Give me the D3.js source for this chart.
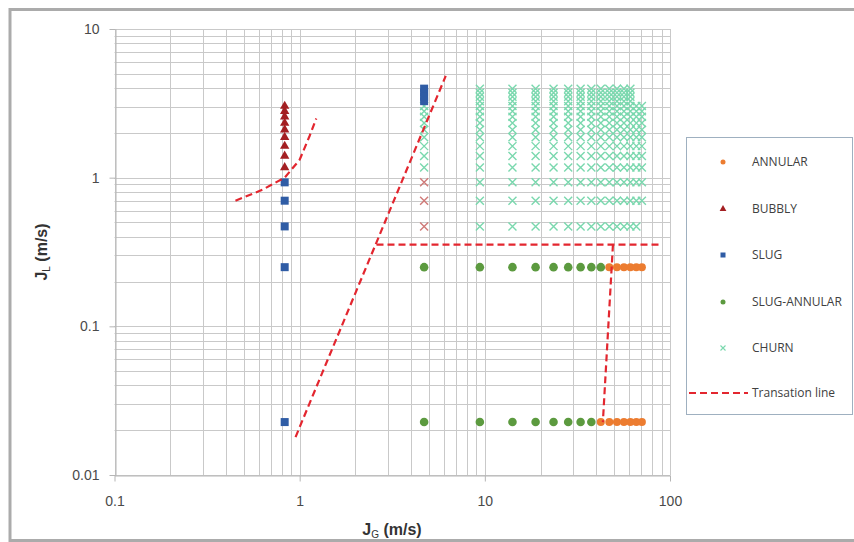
<!DOCTYPE html>
<html>
<head>
<meta charset="utf-8">
<script src="https://cdnjs.cloudflare.com/ajax/libs/d3/7.8.5/d3.min.js"></script>
<style>
  html, body { margin: 0; padding: 0; background: #fff; }
  svg { display: block; }
</style>
</head>
<body>
<svg id="chart" width="854" height="542"></svg>
<script>
// ---------- DATA ----------
const xTicks = [0.1, 1, 10, 100];
const yTicks = [0.01, 0.1, 1, 10];

// gas superficial velocities used in the experiments (m/s)
const jgCols = [4.7, 9.4, 14.1, 18.8, 23.5, 28.2, 32.9, 37.6, 42.3, 47.0, 51.7, 56.4, 61.1, 65.8, 70.5];
// liquid superficial velocity levels of churn points (m/s)
const churnLevels = [0.47, 0.70, 0.93, 1.17, 1.40, 1.63, 1.87, 2.10, 2.33, 2.57, 2.80, 3.03, 3.27, 3.50, 3.73, 3.97];
// per-column first/last level index observed as CHURN
const churnRange = [[3, 11], [0, 15], [0, 15], [0, 15], [0, 15], [0, 15], [0, 15], [0, 15], [0, 15], [0, 15], [0, 15], [0, 15], [0, 15], [0, 11], [1, 11]];

const slugJG = [0.83, 0.83, 0.83, 0.83, 0.83, 4.7, 4.7, 4.7, 4.7];
const slugJL = [0.93, 0.70, 0.47, 0.25, 0.0227, 3.27, 3.50, 3.73, 3.97];

const bubblyJG = [0.83, 0.83, 0.83, 0.83, 0.83, 0.83, 0.83, 0.83, 0.83];
const bubblyJL = [1.17, 1.40, 1.63, 1.87, 2.10, 2.33, 2.57, 2.80, 3.03];

const slugAnnJG = [4.7, 9.4, 14.1, 18.8, 23.5, 28.2, 32.9, 37.6, 42.3, 4.7, 9.4, 14.1, 18.8, 23.5, 28.2, 32.9, 37.6];
const slugAnnJL = [0.25, 0.25, 0.25, 0.25, 0.25, 0.25, 0.25, 0.25, 0.25, 0.0227, 0.0227, 0.0227, 0.0227, 0.0227, 0.0227, 0.0227, 0.0227];

const annularJG = [47.0, 51.7, 56.4, 61.1, 65.8, 70.5, 42.3, 47.0, 51.7, 56.4, 61.1, 65.8, 70.5];
const annularJL = [0.25, 0.25, 0.25, 0.25, 0.25, 0.25, 0.0227, 0.0227, 0.0227, 0.0227, 0.0227, 0.0227, 0.0227];

// churn-like points drawn in a reddish tone at J_G = 4.7
const churn2JG = [4.7, 4.7, 4.7];
const churn2JL = [0.47, 0.70, 0.93];

// transition lines
const trans1 = [[0.45, 0.70], [0.63, 0.83], [0.83, 1.0], [1.0, 1.32], [1.13, 1.9], [1.23, 2.5]];
const trans2 = [[0.95, 0.018], [6.15, 4.84]];
const trans3 = [[2.6, 0.355], [88, 0.355]];
const trans4 = [[49.2, 0.355], [43.4, 0.0227]];

const legendItems = ["ANNULAR", "BUBBLY", "SLUG", "SLUG-ANNULAR", "CHURN", "Transation line"];

// ---------- STYLE ----------
const C = {
  annular: "#ec7c30",
  bubbly: "#a31f22",
  slug: "#2f5ca5",
  slugAnn: "#5c9a3f",
  churn: "#7ad8ae",
  churn2: "#cf7a78",
  line: "#e3262f",
  grid: "#c9c9c9",
  text: "#404040"
};

const svg = d3.select("#chart");
// outer frame
svg.append("rect").attr("x", 10).attr("y", 9.5).attr("width", 880).attr("height", 531)
  .attr("fill", "#fff").attr("stroke", "#ababab").attr("stroke-width", 3);

const x = d3.scaleLog().domain([0.1, 100]).range([114.5, 670]);
const y = d3.scaleLog().domain([0.01, 10]).range([475, 29]);

// grid
const g = svg.append("g");
const xGrid = [], yGrid = [];
[0.1, 1, 10].forEach(d => { for (let k = 1; k <= 10; k++) xGrid.push(d * k); });
[0.01, 0.1, 1].forEach(d => { for (let k = 1; k <= 10; k++) yGrid.push(d * k); });
g.selectAll(".vg").data(xGrid).join("line")
  .attr("x1", d => Math.round(x(d)) + 0.5).attr("x2", d => Math.round(x(d)) + 0.5)
  .attr("y1", y(10)).attr("y2", y(0.01))
  .attr("stroke", C.grid).attr("stroke-width", 1);
g.selectAll(".hg").data(yGrid).join("line")
  .attr("y1", d => Math.round(y(d)) + 0.5).attr("y2", d => Math.round(y(d)) + 0.5)
  .attr("x1", x(0.1)).attr("x2", x(100))
  .attr("stroke", C.grid).attr("stroke-width", 1);

// axes
const xAxis = d3.axisBottom(x).tickValues(xTicks).tickFormat(d3.format("~g")).tickSize(6).tickSizeOuter(0);
const yAxis = d3.axisLeft(y).tickValues(yTicks).tickFormat(d3.format("~g")).tickSize(6).tickSizeOuter(0);
const gx = svg.append("g").attr("transform", `translate(0,${Math.round(y(0.01)) + 0.5})`).call(xAxis);
const gy = svg.append("g").attr("transform", `translate(${Math.round(x(0.1)) + 0.5},0)`).call(yAxis);
[gx, gy].forEach(a => {
  a.selectAll("path").attr("stroke", "#b5b5b5");
  a.selectAll("line").attr("stroke", "#b5b5b5");
  a.selectAll("text").attr("fill", "#4a4a4a").style("font-family", "Liberation Sans, Arial, sans-serif").style("font-size", "14px");
});
gx.selectAll("text").attr("dy", "1.5em");
gy.selectAll("text").attr("dx", "-0.5em");

// churn points
const churnPts = [];
jgCols.forEach((jg, i) => {
  const [a, b] = churnRange[i];
  for (let k = a; k <= b; k++) churnPts.push([jg, churnLevels[k]]);
});
const crossPath = s => `M${-s},${-s}L${s},${s}M${-s},${s}L${s},${-s}`;
svg.append("g").selectAll("path").data(churnPts).join("path")
  .attr("transform", d => `translate(${x(d[0])},${y(d[1])})`)
  .attr("d", crossPath(4)).attr("stroke", C.churn).attr("stroke-width", 1.4).attr("fill", "none");
svg.append("g").selectAll("path").data(churn2JG.map((v, i) => [v, churn2JL[i]])).join("path")
  .attr("transform", d => `translate(${x(d[0])},${y(d[1])})`)
  .attr("d", crossPath(4)).attr("stroke", C.churn2).attr("stroke-width", 1.4).attr("fill", "none");

// slug-annular
svg.append("g").selectAll("circle").data(slugAnnJG.map((v, i) => [v, slugAnnJL[i]])).join("circle")
  .attr("cx", d => x(d[0])).attr("cy", d => y(d[1])).attr("r", 4.3).attr("fill", C.slugAnn);
// annular
svg.append("g").selectAll("circle").data(annularJG.map((v, i) => [v, annularJL[i]])).join("circle")
  .attr("cx", d => x(d[0])).attr("cy", d => y(d[1])).attr("r", 4).attr("fill", C.annular);
// slug
svg.append("g").selectAll("rect").data(slugJG.map((v, i) => [v, slugJL[i]])).join("rect")
  .attr("x", d => x(d[0]) - 4).attr("y", d => y(d[1]) - 4).attr("width", 8).attr("height", 8).attr("fill", C.slug);
// bubbly
const tri = d3.symbol().type(d3.symbolTriangle).size(38);
svg.append("g").selectAll("path").data(bubblyJG.map((v, i) => [v, bubblyJL[i]])).join("path")
  .attr("transform", d => `translate(${x(d[0])},${y(d[1])})`).attr("d", tri()).attr("fill", C.bubbly);

// transition lines
const line = d3.line().x(d => x(d[0])).y(d => y(d[1]));
[trans1, trans2, trans3, trans4].forEach(t => {
  svg.append("path").datum(t).attr("d", line).attr("fill", "none")
    .attr("stroke", C.line).attr("stroke-width", 2.2).attr("stroke-dasharray", "7,4");
});

// axis titles
const xt = svg.append("text").attr("x", 392).attr("y", 535).attr("text-anchor", "middle")
  .style("font-family", "Liberation Sans, Arial, sans-serif").style("font-size", "16px").style("font-weight", "bold").attr("fill", "#333");
xt.append("tspan").text("J");
xt.append("tspan").text("G").style("font-size", "10px").style("font-weight", "normal").attr("dy", 3);
xt.append("tspan").text("  (m/s)").attr("dy", -3);

const yt = svg.append("text").attr("transform", "translate(47,252) rotate(-90)").attr("text-anchor", "middle")
  .style("font-family", "Liberation Sans, Arial, sans-serif").style("font-size", "16px").style("font-weight", "bold").attr("fill", "#333");
yt.append("tspan").text("J");
yt.append("tspan").text("L").style("font-size", "10px").style("font-weight", "normal").attr("dy", 3);
yt.append("tspan").text("  (m/s)").attr("dy", -3);

// legend
const lg = svg.append("g");
lg.append("rect").attr("x", 686.5).attr("y", 137.5).attr("width", 166).attr("height", 277)
  .attr("fill", "#fff").attr("stroke", "#9fb0c0").attr("stroke-width", 1);
const ly = [162, 209, 255, 302, 348, 393];
legendItems.forEach((name, i) => {
  lg.append("text").attr("x", 752).attr("y", ly[i] + 4).text(name)
    .style("font-family", "Open Sans, sans-serif").style("font-size", "12px").attr("fill", C.text);
});
lg.append("circle").attr("cx", 723).attr("cy", ly[0]).attr("r", 2.5).attr("fill", C.annular);
lg.append("path").attr("transform", `translate(723,${ly[1]})`).attr("d", d3.symbol().type(d3.symbolTriangle).size(20)()).attr("fill", C.bubbly);
lg.append("rect").attr("x", 720.5).attr("y", ly[2] - 2.5).attr("width", 5).attr("height", 5).attr("fill", C.slug);
lg.append("circle").attr("cx", 723).attr("cy", ly[3]).attr("r", 2.5).attr("fill", C.slugAnn);
lg.append("path").attr("transform", `translate(723,${ly[4]})`).attr("d", crossPath(2.5)).attr("stroke", C.churn).attr("stroke-width", 1.1);
lg.append("line").attr("x1", 689).attr("x2", 748).attr("y1", ly[5]).attr("y2", ly[5])
  .attr("stroke", C.line).attr("stroke-width", 2.2).attr("stroke-dasharray", "7,4");
</script>
</body>
</html>
